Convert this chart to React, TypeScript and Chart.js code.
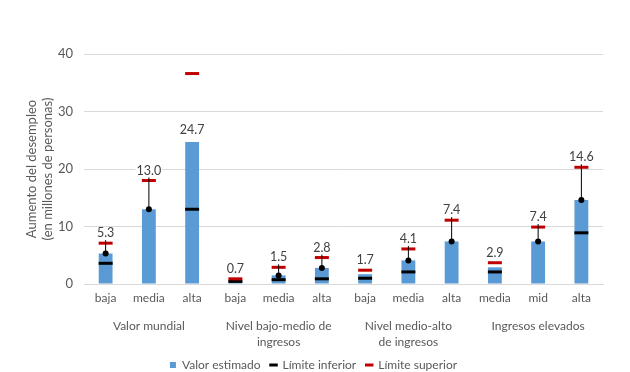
import React, { useEffect, useRef } from "react";
import { Chart, registerables } from "chart.js";

Chart.register(...registerables);

const categories = ["baja", "media", "alta", "baja", "media", "alta", "baja", "media", "alta", "media", "mid", "alta"];
const groups: (string | string[])[] = [
  "Valor mundial",
  ["Nivel bajo-medio de", "ingresos"],
  ["Nivel medio-alto", "de ingresos"],
  "Ingresos elevados",
];
const estimated = [5.3, 13.0, 24.7, 0.7, 1.5, 2.8, 1.7, 4.1, 7.4, 2.9, 7.4, 14.6];
const lower: (number | null)[] = [3.6, null, 13.0, 0.45, 0.75, 0.9, 1.0, 2.1, null, 2.1, null, 8.9];
const upper = [7.1, 18.0, 36.6, 0.9, 2.9, 4.6, 2.4, 6.1, 11.1, 3.7, 9.9, 20.3];
const yTicks = [0, 10, 20, 30, 40];

const FONT = "Lato, 'Open Sans', sans-serif";
const TEXT = "#595959";

const labelPlugin = {
  id: "valueLabels",
  afterDatasetsDraw(chart: any) {
    const ctx = chart.ctx;
    const y = chart.scales.y;
    const meta = chart.getDatasetMeta(0);
    ctx.save();
    ctx.font = `12.5px ${FONT}`;
    ctx.textAlign = "center";
    ctx.textBaseline = "middle";
    estimated.forEach((v, i) => {
      const bar = meta.data[i];
      const x = bar.x;
      const pv = y.getPixelForValue(v);
      const bigGap = upper[i] - v > 10;
      const labelY = bigGap ? pv - 12 : y.getPixelForValue(upper[i]) - 10;
      const txt = v.toFixed(1);
      const w = ctx.measureText(txt).width;
      const bottom = labelY + 7;
      if (pv - bottom > 8) {
        ctx.strokeStyle = "#000";
        ctx.lineWidth = 1;
        ctx.beginPath();
        ctx.moveTo(x, pv);
        ctx.lineTo(x, bottom);
        ctx.stroke();
        ctx.fillStyle = "#000";
        ctx.beginPath();
        ctx.arc(x, pv, 3, 0, Math.PI * 2);
        ctx.fill();
      }
      ctx.fillStyle = "#fff";
      ctx.fillRect(x - w / 2 - 1, labelY - 6, w + 2, 11);
      ctx.fillStyle = "#404040";
      ctx.fillText(txt, x, labelY);
    });
    ctx.restore();
  },
};

export default function App() {
  const ref = useRef<HTMLCanvasElement>(null);
  useEffect(() => {
    document.body.style.margin = "0";
    const chart = new Chart(ref.current!, {
      type: "bar",
      data: {
        labels: categories,
        datasets: [
          {
            type: "bar",
            label: "Valor estimado",
            data: estimated,
            backgroundColor: "#5B9BD5",
            barPercentage: 0.32,
            categoryPercentage: 1,
            pointStyle: "rect",
            order: 3,
          } as any,
          {
            type: "line",
            label: "Límite inferior",
            data: lower,
            showLine: false,
            pointStyle: "line",
            pointRadius: 7,
            pointHoverRadius: 7,
            pointBorderWidth: 3,
            borderColor: "#000000",
            backgroundColor: "#000000",
            order: 2,
          } as any,
          {
            type: "line",
            label: "Límite superior",
            data: upper,
            showLine: false,
            pointStyle: "line",
            pointRadius: 7,
            pointHoverRadius: 7,
            pointBorderWidth: 3,
            borderColor: "#C00000",
            backgroundColor: "#C00000",
            order: 1,
          } as any,
        ],
      },
      options: {
        animation: false,
        responsive: false,
        maintainAspectRatio: false,
        layout: { padding: { top: 54, right: 27, left: 24, bottom: -9 } },
        plugins: {
          tooltip: { enabled: false },
          legend: {
            position: "bottom",
            labels: {
              usePointStyle: true,
              boxWidth: 6,
              boxHeight: 6,
              padding: 10,
              color: TEXT,
              font: { family: FONT, size: 12 },
              sort: (a: any, b: any) => a.datasetIndex - b.datasetIndex,
            },
          },
        },
        scales: {
          x: {
            type: "category",
            offset: true,
            grid: { display: false, drawTicks: false },
            border: { display: true, color: "#D9D9D9" },
            ticks: { color: TEXT, font: { family: FONT, size: 12 }, padding: 7, maxRotation: 0, autoSkip: false },
            afterFit: (s: any) => { s.height = 26; },
          },
          x2: {
            type: "category",
            labels: groups as any,
            position: "bottom",
            offset: true,
            grid: { display: false, drawTicks: false },
            border: { display: false },
            ticks: { color: TEXT, font: { family: FONT, size: 12, lineHeight: 1.35 }, padding: 8, maxRotation: 0, autoSkip: false },
            afterFit: (s: any) => { s.height = 39; },
          },
          y: {
            min: 0,
            max: 40,
            afterBuildTicks: (s: any) => { s.ticks = yTicks.map((v) => ({ value: v })); },
            grid: { color: "#D9D9D9", drawTicks: false },
            border: { display: false },
            ticks: { color: TEXT, font: { family: FONT, size: 13 }, padding: 11 },
            title: {
              display: true,
              text: ["Aumento del desempleo", "(en millones de personas)"],
              color: TEXT,
              font: { family: FONT, size: 13 },
              padding: { top: 0, bottom: 0 },
            },
            afterFit: (s: any) => { s.width = 60; },
          },
        },
      } as any,
      plugins: [labelPlugin],
    });
    return () => chart.destroy();
  }, []);
  return (
    <div style={{ width: 630, height: 372 }}>
      <canvas ref={ref} width={630} height={372} style={{ width: 630, height: 372 }} />
    </div>
  );
}
